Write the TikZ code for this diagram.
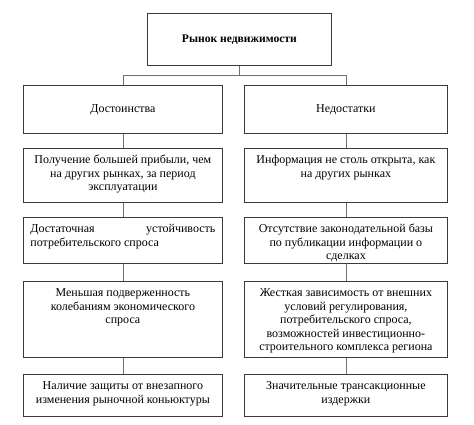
\documentclass[tikz,border=0pt]{standalone}
\usepackage{fontspec}
\setmainfont{Liberation Serif}
\definecolor{boxgray}{HTML}{3A3A3A}
\definecolor{linkgray}{HTML}{707070}
\tikzset{
  cell/.style={draw=boxgray, line width=0.8pt, inner xsep=7pt, inner ysep=0pt, anchor=north west, text=black},
  headbox/.style={draw=boxgray, line width=0.8pt, inner sep=0pt, anchor=north west, text=black},
  link/.style={draw=linkgray, line width=0.8pt}
}
\newcommand\celltext[3]{\parbox[c][#2][t]{#1}{\vspace*{6pt}\centering\strut #3\par}}
\newcommand\celltextleft[3]{\parbox[c][#2][t]{#1}{\vspace*{6pt}\raggedright\strut #3\par}}
\begin{document}
\begin{tikzpicture}[x=1pt, y=-1pt, font=\fontsize{12}{13.5}\selectfont]
\useasboundingbox (0,0) rectangle (474,424);
% title
\node[headbox, minimum width=184pt, minimum height=52pt, font=\fontsize{11.6}{13.5}\selectfont\bfseries] (top) at (147,13) {Рынок недвижимости};
% level 1
\node[headbox, minimum width=199pt, minimum height=48pt] (l0) at (23,85) {Достоинства};
\node[headbox, minimum width=203pt, minimum height=48pt] (r0) at (244,85) {Недостатки};
% left column
\node[cell] (l1) at (23,148) {\celltext{185pt}{54pt}{Получение большей прибыли, чем\\ на других рынках, за период\\ эксплуатации}};
\node[cell] (l2) at (23,217) {\celltextleft{185pt}{46pt}{Достаточная\hfill устойчивость\\ \mbox{потребительского}\hspace{0.25em}\mbox{спроса}}};
\node[cell] (l3) at (23,281) {\celltext{185pt}{76pt}{Меньшая подверженность\\ колебаниям экономического\\ спроса}};
\node[cell] (l4) at (23,374) {\celltext{185pt}{42pt}{Наличие защиты от внезапного\\ изменения рыночной коньюктуры}};
% right column
\node[cell] (r1) at (244,148) {\celltext{189pt}{54pt}{Информация не столь открыта, как\\ на других рынках}};
\node[cell] (r2) at (244,217) {\celltext{189pt}{46pt}{Отсутствие законодательной базы\\ по публикации информации о\\ сделках}};
\node[cell] (r3) at (244,281) {\celltext{189pt}{76pt}{Жесткая зависимость от внешних\\ условий регулирования,\\ потребительского спроса,\\ возможностей инвестиционно-\\ строительного комплекса региона}};
\node[cell] (r4) at (244,374) {\celltext{189pt}{42pt}{Значительные трансакционные\\ издержки}};
% connectors
\coordinate (split) at ([yshift=-10pt]top.south);
\draw[link] (top.south) -- (split) -| (l0.north);
\draw[link] (split) -| (r0.north);
\draw[link] (l0.south) -- (l1.north);
\draw[link] (l1.south) -- (l2.north);
\draw[link] (l2.south) -- (l3.north);
\draw[link] (l3.south) -- (l4.north);
\draw[link] (r0.south) -- (r1.north);
\draw[link] (r1.south) -- (r2.north);
\draw[link] (r2.south) -- (r3.north);
\draw[link] (r3.south) -- (r4.north);
\end{tikzpicture}
\end{document}
